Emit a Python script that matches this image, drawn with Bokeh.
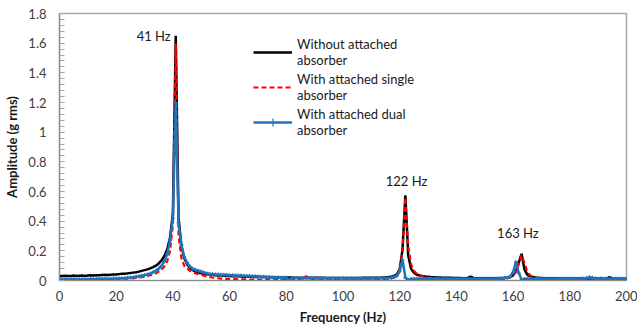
from bokeh.plotting import figure
from bokeh.models import Legend, LegendItem, Label, FixedTicker, Range1d
from bokeh.embed import file_html
from bokeh.resources import INLINE

# ---------------- data ----------------
freq = list(range(0, 201))

without_absorber = [
    0.028, 0.030, 0.032, 0.030, 0.031, 0.033, 0.030, 0.032, 0.034, 0.031,
    0.033, 0.035, 0.034, 0.036, 0.035, 0.037, 0.038, 0.037, 0.039, 0.040,
    0.041, 0.043, 0.045, 0.046, 0.048, 0.050, 0.053, 0.056, 0.060, 0.065,
    0.070, 0.075, 0.082, 0.090, 0.100, 0.115, 0.135, 0.165, 0.210, 0.290,
    0.450, 1.650, 0.420, 0.230, 0.150, 0.110, 0.085, 0.070, 0.060, 0.053,
    0.048, 0.045, 0.042, 0.040, 0.038, 0.036, 0.034, 0.033, 0.032, 0.031,
    0.030, 0.029, 0.028, 0.028, 0.027, 0.026, 0.026, 0.025, 0.025, 0.024,
    0.024, 0.023, 0.023, 0.022, 0.022, 0.022, 0.021, 0.021, 0.021, 0.020,
    0.020, 0.020, 0.020, 0.019, 0.019, 0.019, 0.019, 0.019, 0.018, 0.018,
    0.018, 0.018, 0.018, 0.018, 0.017, 0.017, 0.017, 0.017, 0.017, 0.017,
    0.017, 0.017, 0.017, 0.017, 0.017, 0.017, 0.017, 0.018, 0.018, 0.018,
    0.018, 0.018, 0.019, 0.019, 0.020, 0.021, 0.023, 0.026, 0.031, 0.042,
    0.075, 0.210, 0.575, 0.170, 0.080, 0.052, 0.040, 0.034, 0.030, 0.027,
    0.025, 0.023, 0.022, 0.021, 0.020, 0.019, 0.019, 0.018, 0.018, 0.017,
    0.017, 0.017, 0.016, 0.016, 0.017, 0.026, 0.017, 0.016, 0.015, 0.015,
    0.015, 0.015, 0.015, 0.015, 0.016, 0.016, 0.017, 0.018, 0.020, 0.024,
    0.035, 0.060, 0.120, 0.180, 0.075, 0.040, 0.028, 0.023, 0.020, 0.018,
    0.017, 0.016, 0.016, 0.015, 0.015, 0.015, 0.014, 0.014, 0.014, 0.014,
    0.013, 0.013, 0.013, 0.013, 0.013, 0.013, 0.013, 0.014, 0.016, 0.014,
    0.013, 0.012, 0.012, 0.013, 0.022, 0.013, 0.012, 0.012, 0.012, 0.012,
    0.012,
]

single_absorber = [
    0.004, 0.004, 0.005, 0.004, 0.005, 0.005, 0.005, 0.006, 0.005, 0.006,
    0.006, 0.006, 0.007, 0.007, 0.007, 0.008, 0.008, 0.008, 0.009, 0.009,
    0.010, 0.010, 0.011, 0.012, 0.013, 0.014, 0.016, 0.018, 0.020, 0.023,
    0.026, 0.030, 0.035, 0.041, 0.049, 0.060, 0.074, 0.095, 0.130, 0.200,
    0.380, 1.600, 0.300, 0.150, 0.100, 0.080, 0.065, 0.055, 0.048, 0.043,
    0.038, 0.032, 0.027, 0.023, 0.020, 0.017, 0.015, 0.013, 0.012, 0.011,
    0.010, 0.009, 0.009, 0.008, 0.008, 0.007, 0.007, 0.006, 0.006, 0.006,
    0.005, 0.005, 0.005, 0.005, 0.005, 0.005, 0.005, 0.005, 0.005, 0.005,
    0.005, 0.005, 0.005, 0.005, 0.005, 0.006, 0.012, 0.030, 0.010, 0.006,
    0.005, 0.005, 0.005, 0.005, 0.005, 0.005, 0.005, 0.005, 0.005, 0.005,
    0.005, 0.005, 0.005, 0.005, 0.005, 0.005, 0.005, 0.005, 0.005, 0.005,
    0.006, 0.006, 0.007, 0.007, 0.008, 0.009, 0.011, 0.014, 0.019, 0.030,
    0.060, 0.200, 0.560, 0.230, 0.110, 0.065, 0.045, 0.035, 0.028, 0.023,
    0.020, 0.017, 0.015, 0.013, 0.012, 0.011, 0.010, 0.010, 0.009, 0.009,
    0.008, 0.008, 0.008, 0.008, 0.008, 0.008, 0.008, 0.008, 0.008, 0.008,
    0.008, 0.008, 0.008, 0.009, 0.009, 0.010, 0.011, 0.013, 0.016, 0.022,
    0.035, 0.060, 0.110, 0.170, 0.120, 0.060, 0.035, 0.025, 0.018, 0.015,
    0.012, 0.011, 0.010, 0.010, 0.009, 0.009, 0.009, 0.009, 0.008, 0.008,
    0.008, 0.008, 0.008, 0.008, 0.008, 0.008, 0.008, 0.008, 0.008, 0.008,
    0.010, 0.018, 0.010, 0.008, 0.008, 0.008, 0.008, 0.010, 0.018, 0.010,
    0.008,
]

dual_absorber = [
    0.008, 0.006, 0.009, 0.007, 0.008, 0.010, 0.007, 0.008, 0.009, 0.008,
    0.009, 0.010, 0.009, 0.011, 0.010, 0.011, 0.012, 0.011, 0.012, 0.013,
    0.013, 0.014, 0.015, 0.016, 0.018, 0.020, 0.022, 0.025, 0.028, 0.032,
    0.036, 0.041, 0.047, 0.055, 0.066, 0.080, 0.100, 0.130, 0.180, 0.270,
    0.420, 1.200, 0.390, 0.240, 0.160, 0.120, 0.095, 0.080, 0.072, 0.066,
    0.060, 0.054, 0.048, 0.045, 0.043, 0.041, 0.040, 0.039, 0.038, 0.037,
    0.036, 0.035, 0.034, 0.033, 0.033, 0.032, 0.031, 0.030, 0.029, 0.028,
    0.027, 0.026, 0.025, 0.024, 0.023, 0.022, 0.021, 0.020, 0.019, 0.018,
    0.018, 0.002, 0.017, 0.017, 0.016, 0.016, 0.016, 0.016, 0.015, 0.015,
    0.015, 0.015, 0.016, 0.015, 0.015, 0.014, 0.015, 0.015, 0.014, 0.015,
    0.015, 0.014, 0.014, 0.015, 0.014, 0.014, 0.015, 0.014, 0.014, 0.014,
    0.014, 0.014, 0.014, 0.015, 0.015, 0.016, 0.017, 0.019, 0.023, 0.032,
    0.065, 0.140, 0.020, 0.004, 0.010, 0.012, 0.012, 0.012, 0.012, 0.012,
    0.012, 0.012, 0.012, 0.012, 0.012, 0.012, 0.012, 0.012, 0.012, 0.012,
    0.012, 0.012, 0.012, 0.012, 0.012, 0.012, 0.012, 0.012, 0.012, 0.012,
    0.012, 0.012, 0.012, 0.012, 0.013, 0.013, 0.014, 0.016, 0.019, 0.028,
    0.055, 0.125, 0.050, 0.006, 0.010, 0.012, 0.012, 0.012, 0.012, 0.012,
    0.012, 0.012, 0.012, 0.012, 0.012, 0.012, 0.012, 0.012, 0.012, 0.012,
    0.012, 0.012, 0.012, 0.012, 0.013, 0.014, 0.017, 0.022, 0.018, 0.013,
    0.012, 0.012, 0.012, 0.012, 0.012, 0.012, 0.012, 0.012, 0.012, 0.012,
    0.011,
]

series_names = [
    "Without attached\nabsorber",
    "With attached single\nabsorber",
    "With attached dual\nabsorber",
]

peak_labels = ["41 Hz", "122 Hz", "163 Hz"]
peak_label_x = [41, 122.4, 161.7]
peak_label_y = [1.65, 0.67, 0.32]

x_ticks = [0, 20, 40, 60, 80, 100, 120, 140, 160, 180, 200]
y_ticks = [0, 0.2, 0.4, 0.6, 0.8, 1.0, 1.2, 1.4, 1.6, 1.8]
y_tick_labels = ["0", "0.2", "0.4", "0.6", "0.8", "1", "1.2", "1.4", "1.6", "1.8"]

FONT = "Lato"

p = figure(width=637, height=330, output_backend="svg", toolbar_location=None,
           x_range=Range1d(0, 200), y_range=Range1d(0, 1.8),
           min_border_left=59, min_border_right=11, min_border_top=13,
           min_border_bottom=50)
p.xgrid.visible = False
p.ygrid.visible = False
p.outline_line_color = "#a6a6a6"
p.outline_line_width = 1.5
p.background_fill_color = "white"

r_black = p.line(freq, without_absorber, line_color="black", line_width=2.5)
r_red = p.line(freq, single_absorber, line_color="#ff0000", line_width=2.2,
               line_dash="5 3")
r_blue = p.line(freq, dual_absorber, line_color="#1f74bd", line_width=2.5)
r_blue_m = p.scatter(freq, dual_absorber, marker="cross", size=4,
                     line_color="#1f74bd", line_width=1.2)

# axes
p.xaxis.ticker = FixedTicker(ticks=x_ticks)
p.xaxis.major_tick_in = 0
p.xaxis.major_tick_out = 0
p.xaxis.minor_tick_in = 0
p.xaxis.minor_tick_out = 0
p.xaxis.axis_line_color = "#8c8c8c"
p.xaxis.axis_line_width = 1.2
p.xaxis.major_label_standoff = 10
p.xaxis.axis_label = "Frequency (Hz)"
p.xaxis.axis_label_standoff = 5

minor = [round(i * 0.04, 2) for i in range(0, 46)]
p.yaxis.ticker = FixedTicker(ticks=y_ticks, minor_ticks=minor)
p.yaxis.major_label_overrides = {t: s for t, s in zip(y_ticks, y_tick_labels)}
p.yaxis.major_tick_in = 5
p.yaxis.major_tick_out = 0
p.yaxis.minor_tick_in = 5
p.yaxis.minor_tick_out = 0
p.yaxis.major_tick_line_color = "#a6a6a6"
p.yaxis.minor_tick_line_color = "#a6a6a6"
p.yaxis.axis_line_color = "#8c8c8c"
p.yaxis.axis_line_width = 1.2
p.yaxis.major_label_standoff = 13
p.yaxis.axis_label = "Amplitude (g rms)"
p.yaxis.axis_label_standoff = 5

for ax in (p.xaxis, p.yaxis):
    ax.major_label_text_font = FONT
    ax.major_label_text_font_size = "13px"
    ax.major_label_text_color = "#404040"
    ax.axis_label_text_font = FONT
    ax.axis_label_text_font_size = "13px"
    ax.axis_label_text_font_style = "bold"
    ax.axis_label_text_color = "#1a1a1a"

# peak annotations
for txt, lx, ly in zip(peak_labels, peak_label_x, peak_label_y):
    if txt == "41 Hz":
        lab = Label(x=lx, y=ly, x_offset=-5, text=txt, text_align="right",
                    text_baseline="middle")
    else:
        lab = Label(x=lx, y=ly, text=txt, text_align="center",
                    text_baseline="middle")
    lab.text_font = FONT
    lab.text_font_size = "13px"
    lab.text_color = "#1a1a1a"
    p.add_layout(lab)

legend = Legend(items=[
    LegendItem(label=series_names[0], renderers=[r_black]),
    LegendItem(label=series_names[1], renderers=[r_red]),
    LegendItem(label=series_names[2], renderers=[r_blue, r_blue_m]),
], location=(194, 142))
legend.border_line_color = None
legend.background_fill_alpha = 0
legend.padding = 0
legend.margin = 0
legend.spacing = 3
legend.glyph_width = 39
legend.label_standoff = 5
legend.label_text_font = FONT
legend.label_text_font_size = "13px"
legend.label_text_line_height = 1.4
legend.label_text_color = "#1a1a1a"
p.add_layout(legend)

open("out.html", "w").write(file_html(p, INLINE))
